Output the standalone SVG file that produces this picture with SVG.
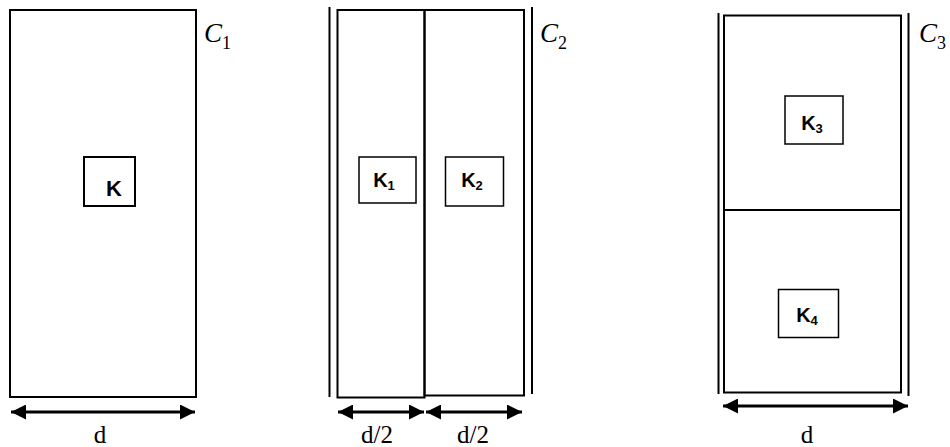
<svg xmlns="http://www.w3.org/2000/svg" width="950" height="447" viewBox="0 0 950 447">
<defs>
<marker id="ah" viewBox="0 0 10 10" refX="10" refY="5" markerWidth="5.5" markerHeight="5" orient="auto-start-reverse" markerUnits="strokeWidth">
<path d="M0,0 L10,5 L0,10 Z" fill="#000"/>
</marker>
<style>
.frame{fill:none;stroke:#000;stroke-width:2}
.wall{fill:none;stroke:#000;stroke-width:2}
.kbox{fill:#fff;stroke:#000;stroke-width:1.5}
.kbox2{fill:#fff;stroke:#000;stroke-width:2}
.klab{font-family:"Liberation Sans",Arial,sans-serif;font-weight:bold;font-size:20px;fill:#000}
.kbig{font-size:22px}
.ksub{font-size:13px}
.cl{font-family:"Liberation Serif","Times New Roman",serif;font-style:italic;font-size:27px;fill:#000}
.csub{font-family:"Liberation Serif","Times New Roman",serif;font-style:normal;font-size:18px}
.dim{font-family:"Liberation Serif","Times New Roman",serif;font-size:25px;fill:#000}
.arr{stroke:#000;stroke-width:3;fill:none;marker-start:url(#ah);marker-end:url(#ah)}
</style>
</defs>

<g id="panel1">
<rect class="frame" x="10" y="10" width="186" height="387"/>
<text class="cl" x="204" y="42">C<tspan class="csub" dy="7">1</tspan></text>
</g>
<g id="nodeK">
<rect class="kbox2" x="84" y="157" width="51" height="49"/>
<text class="klab kbig" x="114" y="196" text-anchor="middle">K</text>
</g>

<g id="panel2">
<line class="wall" x1="329.5" y1="7" x2="329.5" y2="397"/>
<line class="wall" x1="532" y1="7" x2="532" y2="394"/>
<rect class="frame" x="337.5" y="10" width="87" height="387.5"/>
<rect class="frame" x="424.5" y="10" width="99.5" height="385.5"/>
<text class="cl" x="540" y="42">C<tspan class="csub" dy="7">2</tspan></text>
</g>
<g id="nodeK1">
<rect class="kbox" x="359" y="157" width="57" height="46"/>
<text class="klab" x="384" y="187" text-anchor="middle">K<tspan class="ksub" dy="3">1</tspan></text>
</g>
<g id="nodeK2">
<rect class="kbox" x="445.5" y="157" width="58" height="49"/>
<text class="klab" x="472" y="187" text-anchor="middle">K<tspan class="ksub" dy="3">2</tspan></text>
</g>

<g id="panel3">
<line class="wall" x1="718.5" y1="13" x2="718.5" y2="394"/>
<line class="wall" x1="908.5" y1="13" x2="908.5" y2="396"/>
<rect class="frame" x="724" y="15.5" width="177" height="377"/>
<line class="frame" x1="724" y1="210" x2="901" y2="210"/>
<text class="cl" x="919" y="42">C<tspan class="csub" dy="7">3</tspan></text>
</g>
<g id="nodeK3">
<rect class="kbox" x="785" y="96" width="58" height="48"/>
<text class="klab" x="812" y="130" text-anchor="middle">K<tspan class="ksub" dy="3">3</tspan></text>
</g>
<g id="nodeK4">
<rect class="kbox" x="778.5" y="289.5" width="60" height="48"/>
<text class="klab" x="807" y="322" text-anchor="middle">K<tspan class="ksub" dy="3">4</tspan></text>
</g>

<g id="connectors">
<line class="arr" x1="11" y1="412" x2="195" y2="412"/>
<line class="arr" x1="338" y1="412" x2="424" y2="412"/>
<line class="arr" x1="426" y1="412" x2="522" y2="412"/>
<line class="arr" x1="723" y1="406" x2="908" y2="406"/>
</g>

<g id="labels">
<text class="dim" x="100" y="443" text-anchor="middle">d</text>
<text class="dim" x="377" y="443" text-anchor="middle">d/2</text>
<text class="dim" x="473" y="443" text-anchor="middle">d/2</text>
<text class="dim" x="807" y="443" text-anchor="middle">d</text>
</g>
</svg>
